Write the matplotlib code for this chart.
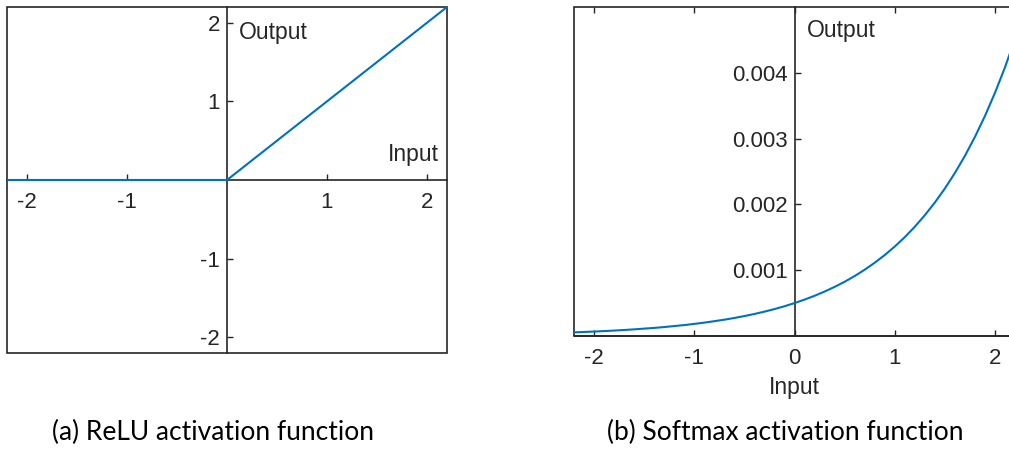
import matplotlib
matplotlib.use("Agg")
from matplotlib import pyplot as plt
from matplotlib.patches import Rectangle

# ReLU panel data
relu_x = [-2.2, 0.0, 2.2]
relu_y = [0.0, 0.0, 2.2]
relu_xticks = [-2, -1, 1, 2]
relu_yticks = [-2, -1, 1, 2]

# Softmax panel data
soft_x = [-2.2, -2.1, -2.0, -1.9, -1.8, -1.7, -1.6, -1.5, -1.4, -1.3, -1.2,
          -1.1, -1.0, -0.9, -0.8, -0.7, -0.6, -0.5, -0.4, -0.3, -0.2, -0.1,
          0.0, 0.1, 0.2, 0.3, 0.4, 0.5, 0.6, 0.7, 0.8, 0.9, 1.0, 1.1,
          1.2, 1.3, 1.4, 1.5, 1.6, 1.7, 1.8, 1.9, 2.0, 2.1, 2.2]
soft_y = [0.0000554, 0.0000612, 0.0000677, 0.0000748, 0.0000826, 0.0000913,
          0.000101, 0.000112, 0.000123, 0.000136, 0.000151, 0.000166,
          0.000184, 0.000203, 0.000225, 0.000248, 0.000274, 0.000303,
          0.000335, 0.000370, 0.000409, 0.000452, 0.000500, 0.000553,
          0.000611, 0.000675, 0.000746, 0.000824, 0.000911, 0.001007,
          0.001113, 0.001230, 0.001359, 0.001502, 0.001660, 0.001835,
          0.002028, 0.002241, 0.002477, 0.002737, 0.003025, 0.003343,
          0.003695, 0.004083, 0.004513]
soft_xticks = [-2, -1, 0, 1, 2]
soft_yticks = [0.001, 0.002, 0.003, 0.004]

captions = ["(a) ReLU activation function", "(b) Softmax activation function"]

blue = "#0072BD"
dark = "#262626"
plt.rcParams['font.family'] = ['Liberation Sans', 'DejaVu Sans']

W, H = 1009, 451
fig = plt.figure(figsize=(W / 100, H / 100), dpi=100)

def box(ax):
	ax.add_patch(Rectangle((0, 0), 1, 1, transform=ax.transAxes, fill=False,
	                       edgecolor=dark, linewidth=1.2, clip_on=False, zorder=5))

# ---- left: ReLU
ax1 = fig.add_axes([7 / W, (H - 353) / H, 440 / W, 346 / H])
ax1.plot(relu_x, relu_y, color=blue, linewidth=1.5, zorder=6)
ax1.set_xlim(-2.2, 2.2)
ax1.set_ylim(-2.2, 2.2)
for s in ['top', 'right']:
	ax1.spines[s].set_visible(False)
ax1.spines['left'].set_position(('data', 0))
ax1.spines['bottom'].set_position(('data', 0))
for s in ['left', 'bottom']:
	ax1.spines[s].set_color(dark)
	ax1.spines[s].set_linewidth(1.2)
box(ax1)
ax1.set_xticks(relu_xticks)
ax1.set_yticks(relu_yticks)
ax1.set_xticklabels([str(v) for v in relu_xticks])
ax1.set_yticklabels([str(v) for v in relu_yticks])
ax1.tick_params(direction='in', length=4, width=1.0, color=dark,
                labelsize=16, labelcolor=dark, pad=5)
ax1.tick_params(axis='x', pad=9)
ax1.text(0.12, 1.88, "Output", fontsize=16.5, color=dark, ha='left', va='center')
ax1.text(2.12, 0.32, "Input", fontsize=16.5, color=dark, ha='right', va='center')

# ---- right: Softmax
ax2 = fig.add_axes([574 / W, (H - 336) / H, 441 / W, 329 / H])
ax2.plot(soft_x, soft_y, color=blue, linewidth=1.5, zorder=6)
ax2.set_xlim(-2.2, 2.2)
ax2.set_ylim(0, 0.005)
for s in ['top', 'right']:
	ax2.spines[s].set_visible(False)
ax2.spines['left'].set_position(('data', 0))
for s in ['left', 'bottom']:
	ax2.spines[s].set_color(dark)
	ax2.spines[s].set_linewidth(1.2)
box(ax2)
ax2.set_xticks(soft_xticks)
ax2.set_yticks(soft_yticks)
ax2.set_xticklabels([str(v) for v in soft_xticks])
ax2.set_yticklabels(["%.3f" % v for v in soft_yticks])
ax2.tick_params(direction='in', length=4, width=1.0, color=dark,
                labelsize=16, labelcolor=dark, pad=5)
ax2.tick_params(axis='x', top=True, pad=9)
ax2.set_xlabel("Input", fontsize=16.5, color=dark, labelpad=5)
ax2.text(0.12, 0.00464, "Output", fontsize=16.5, color=dark, ha='left', va='center')

# captions
fig.text(213 / W, 1 - 432 / H, captions[0], fontsize=19, family=['Lato', 'DejaVu Sans'],
         ha='center', va='center', color='black')
fig.text(785 / W, 1 - 432 / H, captions[1], fontsize=19, family=['Lato', 'DejaVu Sans'],
         ha='center', va='center', color='black')

fig.savefig("out.png", dpi=100)
